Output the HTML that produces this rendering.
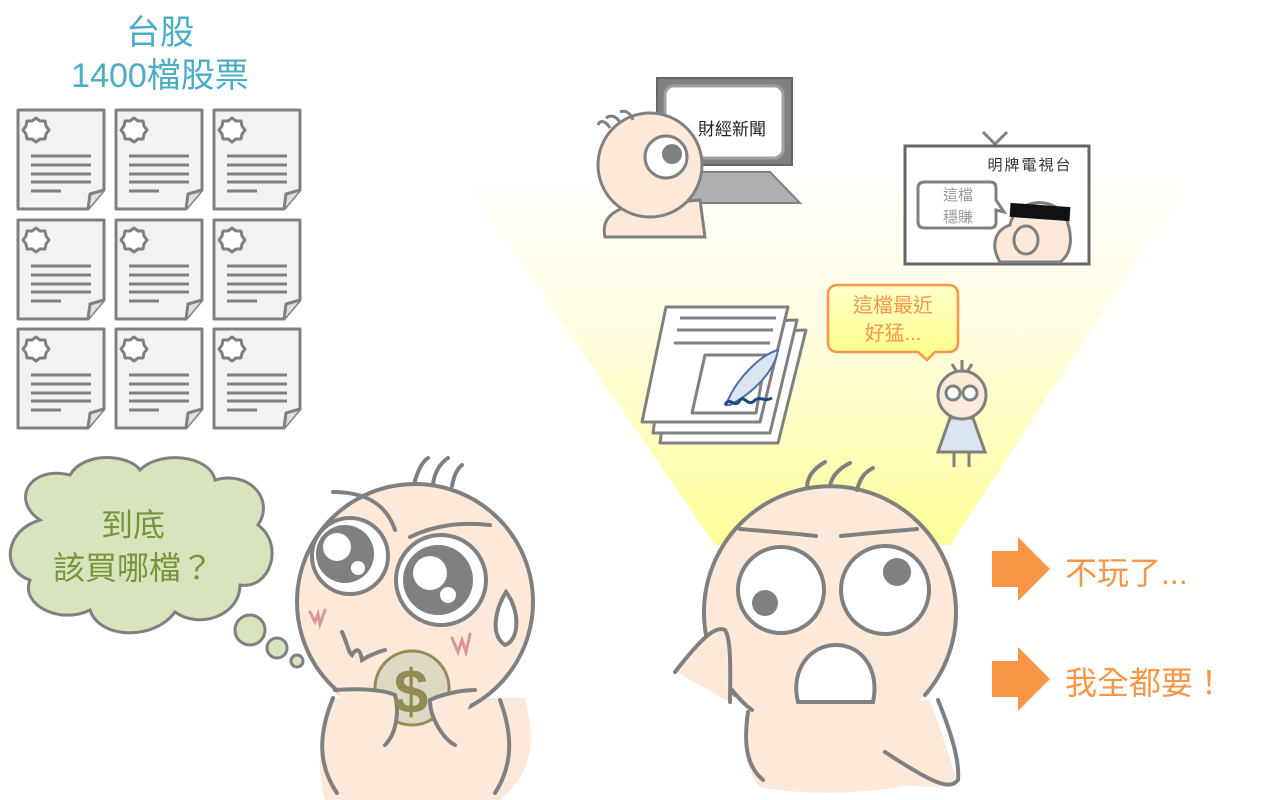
<!DOCTYPE html>
<html><head><meta charset="utf-8"><style>
html,body{margin:0;padding:0;background:#fff}
svg{display:block}
text{font-family:"Liberation Sans","Noto Sans CJK TC",sans-serif}
</style></head><body>
<svg width="1261" height="800" viewBox="0 0 1261 800" xmlns="http://www.w3.org/2000/svg">
<defs>
<linearGradient id="spot" x1="0" y1="0" x2="0" y2="1">
<stop offset="0" stop-color="#ffffff"/><stop offset="0.45" stop-color="#fffde0"/><stop offset="1" stop-color="#ffff99"/>
</linearGradient>
<linearGradient id="bub" x1="0" y1="0" x2="0" y2="1">
<stop offset="0" stop-color="#ffffcc"/><stop offset="1" stop-color="#ffff88"/>
</linearGradient>
<g id="doc">
<path d="M2,2 H88 V82 L72,101 H2 Z" fill="#f2f2f2" stroke="#808080" stroke-width="3" stroke-linejoin="round"/>
<path d="M72,101 L74,86 L88,82" fill="#e0e0e0" stroke="#808080" stroke-width="3" stroke-linejoin="round"/>
<polygon points="20,10 24,13 29,13 30,18 33,22 30,26 29,31 24,31 20,34 16,31 11,31 10,26 7,22 10,18 11,13 16,13" fill="#fff" stroke="#808080" stroke-width="3" stroke-linejoin="round"/>
<g stroke="#808080" stroke-width="3"><line x1="15" y1="48" x2="75" y2="48"/><line x1="15" y1="57" x2="75" y2="57"/><line x1="15" y1="66" x2="75" y2="66"/><line x1="15" y1="74" x2="75" y2="74"/><line x1="15" y1="83" x2="45" y2="83"/></g>
</g>
</defs>

<polygon points="468,185 1200,165 950,545 715,545" fill="url(#spot)"/>

<text x="160" y="44" font-size="34" fill="#4bacc6" text-anchor="middle">台股</text>
<text x="160" y="87" font-size="34" fill="#4bacc6" text-anchor="middle">1400檔股票</text>

<use href="#doc" x="16" y="108"/><use href="#doc" x="114" y="108"/><use href="#doc" x="212" y="108"/>
<use href="#doc" x="16" y="218"/><use href="#doc" x="114" y="218"/><use href="#doc" x="212" y="218"/>
<use href="#doc" x="16" y="327"/><use href="#doc" x="114" y="327"/><use href="#doc" x="212" y="327"/>

<path d="M40,520 C10,500 30,465 70,475 C85,450 130,455 140,470 C160,450 210,455 215,480 C250,470 275,500 258,525 C285,545 270,590 240,585 C240,615 200,630 175,612 C155,640 100,640 90,610 C60,625 20,605 30,580 C0,570 5,530 40,520 Z" fill="#d7e4bd" stroke="#808080" stroke-width="3"/>
<text x="133" y="536" font-size="32" fill="#77933c" text-anchor="middle">到底</text>
<text x="133" y="579" font-size="32" fill="#77933c" text-anchor="middle">該買哪檔？</text>
<circle cx="250" cy="630" r="15" fill="#d7e4bd" stroke="#808080" stroke-width="3"/>
<circle cx="277" cy="648" r="10" fill="#d7e4bd" stroke="#808080" stroke-width="3"/>
<circle cx="297" cy="661" r="6" fill="#d7e4bd" stroke="#808080" stroke-width="3"/>

<g stroke="#808080" stroke-width="4" fill="none" stroke-linecap="round">
<path d="M325,800 C315,760 320,730 335,698 L525,698 C535,740 535,770 500,800 Z" fill="#fde9d9" stroke="none"/>
<path d="M333,698 C318,735 318,765 337,793"/>
<path d="M500,700 C513,735 513,765 495,793"/>
<circle cx="415" cy="602" r="118" fill="#fde9d9"/>
<path d="M414,484 C418,470 422,462 428,458"/><path d="M433,484 C435,470 442,462 448,458"/><path d="M452,486 C454,475 458,468 462,465"/>
<path d="M333,492 C360,492 385,500 395,530"/><path d="M410,537 C435,525 460,522 490,525"/>
<circle cx="350" cy="556" r="38" fill="#fff"/><circle cx="345" cy="554" r="29" fill="#808080" stroke="none"/><circle cx="337" cy="547" r="14" fill="#fff" stroke="none"/><circle cx="358" cy="568" r="7" fill="#fff" stroke="none"/>
<circle cx="441" cy="580" r="45" fill="#fff"/><circle cx="438" cy="580" r="35" fill="#808080" stroke="none"/><circle cx="430" cy="573" r="17" fill="#fff" stroke="none"/><circle cx="448" cy="595" r="8" fill="#fff" stroke="none"/>
<path d="M506,592 C495,610 490,635 505,645 C520,640 520,610 506,592 Z" fill="#fff"/>
<path d="M342,632 C348,645 348,652 352,655 C356,648 360,648 362,660 C370,655 378,652 385,650"/>
<path d="M310,612 L315,622 L318,614 L320,624 L325,610" stroke="#da9694" stroke-width="3"/>
<path d="M452,638 L458,652 L462,640 L466,652 L470,634" stroke="#da9694" stroke-width="3"/>
<circle cx="412" cy="688" r="37" fill="#ddd9c3" stroke="#948a54" stroke-width="3"/>
<path d="M335,690 C360,688 385,690 395,695 C400,715 395,735 385,745" fill="#fde9d9"/>
<path d="M475,690 C460,690 440,695 430,700 C430,720 445,740 455,745" fill="#fde9d9"/>
</g>
<text x="411" y="713" font-size="62" font-weight="bold" fill="#948a54" text-anchor="middle">$</text>

<rect x="657" y="78" width="135" height="87" fill="#808080" stroke="#666" stroke-width="2"/>
<rect x="665" y="86" width="118" height="72" rx="9" fill="#fff" stroke="#a0a0a0" stroke-width="3"/>
<text x="732" y="135" font-size="17" fill="#222" text-anchor="middle">財經新聞</text>
<polygon points="690,172 770,172 800,203 690,203" fill="#b0b0b0" stroke="#808080" stroke-width="2"/>
<g stroke="#808080" stroke-width="3" fill="#fde9d9">
<path d="M605,237 C600,215 620,205 645,205 L700,200 L705,237 Z" />
<circle cx="650" cy="165" r="52"/>
<path d="M610,128 C605,120 600,120 598,125" fill="none"/><path d="M620,122 C615,115 610,115 606,118" fill="none"/><path d="M633,120 C630,112 625,110 620,112" fill="none"/>
<circle cx="666" cy="157" r="21" fill="#fff"/>
</g>
<circle cx="672" cy="154" r="10" fill="#808080"/>

<path d="M983,132 L995,144 L1007,132" fill="none" stroke="#808080" stroke-width="3"/>
<rect x="905" y="146" width="184" height="118" fill="#fff" stroke="#666" stroke-width="3"/>
<text x="1030" y="170" font-size="15" fill="#333" text-anchor="middle" letter-spacing="2">明牌電視台</text>
<path d="M925,182 H990 Q996,182 996,188 V200 L1004,212 L996,210 V222 Q996,228 990,228 H925 Q918,228 918,222 V188 Q918,182 925,182 Z" fill="#fff" stroke="#808080" stroke-width="3"/>
<text x="958" y="200" font-size="15" fill="#999" text-anchor="middle">這檔</text>
<text x="958" y="222" font-size="15" fill="#999" text-anchor="middle">穩賺</text>
<path d="M1000,262 C990,245 995,230 1010,225 C1015,200 1050,195 1065,215 C1075,240 1070,255 1060,262 Z" fill="#fde9d9" stroke="#808080" stroke-width="3"/>
<rect x="1010" y="205" width="60" height="14" fill="#111" transform="rotate(4 1040 212)"/>
<ellipse cx="1026" cy="240" rx="12" ry="14" fill="#fde9d9" stroke="#808080" stroke-width="3"/>

<g stroke="#808080" stroke-width="3" fill="#fff" stroke-linejoin="round">
<polygon points="675,335 806,330 778,443 660,443"/>
<polygon points="668,325 797,320 770,433 653,433"/>
<polygon points="666,307 788,307 760,422 642,422"/>
<line x1="680" y1="318" x2="776" y2="318"/><line x1="677" y1="330" x2="773" y2="330"/><line x1="674" y1="343" x2="770" y2="343"/>
<polygon points="705,355 766,355 756,413 692,413"/>
</g>
<path d="M726,405 C735,380 760,355 778,350 C775,370 755,392 730,405 Z" fill="#dbe5f1" stroke="#4f6fa8" stroke-width="2"/>
<path d="M725,405 C730,395 735,410 740,400 C745,395 748,408 755,400 C760,396 765,402 772,398" fill="none" stroke="#1f497d" stroke-width="3"/>

<path d="M838,285 H948 Q958,285 958,295 V342 Q958,352 948,352 H935 L927,360 L918,352 H838 Q828,352 828,342 V295 Q828,285 838,285 Z" fill="url(#bub)" stroke="#f79646" stroke-width="2.5"/>
<text x="893" y="312" font-size="20" fill="#f79646" text-anchor="middle">這檔最近</text>
<text x="893" y="340" font-size="20" fill="#f79646" text-anchor="middle">好猛...</text>

<g stroke="#808080" stroke-width="3">
<line x1="954" y1="450" x2="954" y2="467"/><line x1="969" y1="450" x2="969" y2="467"/>
<polygon points="950,418 973,418 985,452 938,452" fill="#dbe5f1"/>
<path d="M962,370 V360 M957,372 L952,364 M967,372 L972,364" fill="none"/>
<circle cx="962" cy="395" r="24" fill="#fde9d9"/>
<circle cx="953" cy="393" r="7" fill="#fff"/><circle cx="970" cy="393" r="7" fill="#fff"/>
</g>

<g stroke="#808080" stroke-width="4" fill="none" stroke-linecap="round">
<path d="M748,712 C742,750 745,770 760,787 C800,795 860,795 910,785 C940,790 960,785 955,775 C945,740 935,715 930,700 Z" fill="#fde9d9" stroke="none"/>
<circle cx="830" cy="612" r="126" fill="#fde9d9" stroke="none"/>
<path d="M735,695 A126,126 0 1 1 925,695"/>
<path d="M748,712 C744,740 745,765 763,780"/>
<path d="M938,700 C950,730 960,760 958,780 C950,790 935,785 885,752"/>
<path d="M675,672 C700,640 715,625 725,630 C732,640 730,680 730,702 L676,672 Z" fill="#fde9d9" stroke="none"/>
<path d="M675,672 C700,640 715,625 725,630 C732,640 730,680 730,702"/>
<path d="M732,690 C740,700 745,705 752,710"/>
<path d="M807,486 C808,475 815,468 825,462"/><path d="M830,486 C832,475 840,468 850,463"/><path d="M857,490 C860,478 865,472 873,468"/>
<path d="M740,529 C775,532 800,534 816,536"/><path d="M841,536 C870,533 895,531 917,529"/>
<circle cx="781" cy="590" r="43" fill="#fff"/><circle cx="765" cy="603" r="13" fill="#808080" stroke="none"/>
<circle cx="885" cy="590" r="44" fill="#fff"/><circle cx="897" cy="572" r="14" fill="#808080" stroke="none"/>
<path d="M798,702 C790,670 810,645 836,645 C862,645 880,670 873,702 Z" fill="#fff"/>
</g>

<polygon points="992,551 1018,551 1018,537 1050,569 1018,601 1018,587 992,587" fill="#f79646"/>
<polygon points="992,661 1018,661 1018,647 1050,679 1018,711 1018,697 992,697" fill="#f79646"/>
<text x="1065" y="584" font-size="32" fill="#f79646">不玩了...</text>
<text x="1065" y="694" font-size="32" fill="#f79646">我全都要！</text>
</svg>
</body></html>
